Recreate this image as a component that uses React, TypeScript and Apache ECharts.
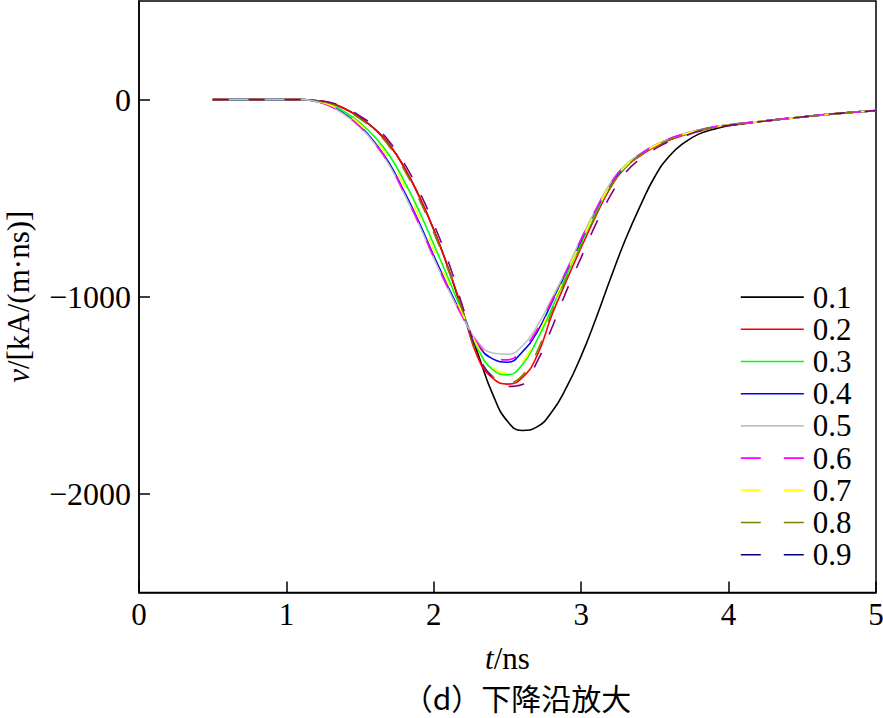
import React, { useEffect, useRef } from "react";
import * as echarts from "echarts";

const seriesNames = ["0.1", "0.2", "0.3", "0.4", "0.5", "0.6", "0.7", "0.8", "0.9"];
const lineColors = ["#000000", "#ff0000", "#00ff00", "#0000ff", "#c0c0c0", "#ff00ff", "#ffff00", "#808000", "#800080"];
const legendColors = ["#000000", "#ff0000", "#00ff00", "#0000ff", "#c0c0c0", "#ff00ff", "#ffff00", "#808000", "#000080"];
const dashed = [false, false, false, false, false, true, true, true, true];

const tValues = [0.5, 1.0, 1.1, 1.2, 1.3, 1.4, 1.5, 1.6, 1.7, 1.8, 1.9, 2.0, 2.1, 2.2, 2.3, 2.4, 2.5, 2.6, 2.7, 2.8, 2.9, 3.0, 3.1, 3.2, 3.3, 3.4, 3.5, 3.6, 3.7, 3.8, 3.9, 4.0, 4.25, 4.5, 4.75, 5.0];

const v01 = [0, 0, 0, -5, -18, -48, -92, -150, -230, -345, -490, -660, -860, -1085, -1290, -1495, -1632, -1678, -1660, -1585, -1460, -1300, -1110, -905, -710, -540, -390, -285, -218, -174, -150, -133, -108, -88, -70, -56];
const v02 = [0, 0, 0, -5, -18, -48, -92, -150, -230, -345, -490, -660, -858, -1080, -1310, -1413, -1443, -1410, -1300, -1095, -918, -750, -590, -445, -345, -285, -240, -205, -180, -158, -142, -130, -108, -88, -70, -56];
const v03 = [0, 0, 0, -7, -26, -64, -118, -190, -285, -415, -565, -735, -910, -1090, -1265, -1370, -1395, -1345, -1220, -1060, -892, -728, -575, -435, -340, -280, -235, -200, -176, -155, -140, -128, -108, -88, -70, -56];
const v04 = [0, 0, 0, -9, -32, -76, -135, -218, -325, -468, -622, -792, -955, -1105, -1245, -1315, -1332, -1280, -1180, -1030, -872, -713, -560, -428, -335, -278, -233, -198, -174, -154, -139, -128, -108, -88, -70, -56];
const v05 = [0, 0, 0, -10, -35, -80, -140, -225, -335, -480, -635, -805, -965, -1110, -1230, -1285, -1292, -1250, -1150, -1010, -863, -703, -555, -422, -332, -276, -232, -198, -174, -154, -139, -128, -108, -88, -70, -56];
const v06 = [0, 0, 0, -10, -34, -78, -138, -222, -330, -475, -630, -800, -960, -1108, -1240, -1305, -1320, -1268, -1168, -1022, -868, -708, -557, -425, -333, -277, -232, -198, -174, -154, -139, -128, -108, -88, -70, -56];
const v07 = [0, 0, 0, -8, -29, -70, -127, -205, -305, -440, -595, -765, -935, -1095, -1255, -1360, -1385, -1330, -1200, -1045, -882, -720, -568, -432, -338, -279, -234, -199, -175, -155, -140, -128, -108, -88, -70, -56];
const v08 = [0, 0, 0, -6, -20, -52, -98, -158, -240, -358, -505, -675, -868, -1080, -1300, -1405, -1436, -1400, -1280, -1080, -908, -742, -585, -442, -344, -284, -239, -204, -179, -157, -141, -130, -108, -88, -70, -56];
const v09 = [0, 0, 0, -4, -15, -42, -84, -138, -215, -325, -465, -632, -825, -1060, -1290, -1410, -1455, -1445, -1330, -1160, -970, -800, -630, -485, -372, -300, -250, -212, -185, -161, -144, -131, -109, -88, -70, -56];

const allValues = [v01, v02, v03, v04, v05, v06, v07, v08, v09];

const xTicks = [0, 1, 2, 3, 4, 5];
const yTickLabels = [-2000, -1000, 0];

const SERIF = "'Liberation Serif', 'Times New Roman', serif";

export default function App() {
  const ref = useRef<HTMLDivElement>(null);
  useEffect(() => {
    if (!ref.current) return;
    const chart = echarts.init(ref.current, undefined, { renderer: "svg" });
    const series = seriesNames.map((name, i) => ({
      name,
      type: "line",
      data: tValues.map((t, k) => [t, allValues[i][k]]),
      smooth: 0.5,
      showSymbol: false,
      symbol: "none",
      lineStyle: {
        color: lineColors[i],
        width: 1.6,
        type: dashed[i] ? [16, 20] : "solid",
      },
      itemStyle: { color: lineColors[i] },
      z: 2 + i,
    }));
    chart.setOption({
      animation: false,
      backgroundColor: "#ffffff",
      grid: {
        left: 139,
        top: 1,
        right: 7,
        bottom: 125.5,
        show: true,
        borderColor: "#000",
        borderWidth: 1.5,
        containLabel: false,
        outerBoundsMode: "none",
      },
      xAxis: {
        type: "value",
        min: xTicks[0],
        max: xTicks[xTicks.length - 1],
        interval: 1,
        name: "{i|t}/ns",
        nameLocation: "middle",
        nameGap: 50,
        nameTextStyle: {
          fontFamily: SERIF,
          fontSize: 31,
          color: "#000",
          rich: { i: { fontFamily: SERIF, fontSize: 31, fontStyle: "italic", color: "#000" } },
        },
        axisLine: { show: true, onZero: false, lineStyle: { color: "#000", width: 1.5 } },
        axisTick: { show: true, inside: true, length: 11, lineStyle: { color: "#000", width: 1.5 } },
        axisLabel: { fontFamily: SERIF, fontSize: 31, color: "#000", margin: 6 },
        splitLine: { show: false },
      },
      yAxis: {
        type: "value",
        min: -2500,
        max: 500,
        interval: 500,
        name: "{i|v}/[kA/(m·ns)]",
        nameLocation: "middle",
        nameGap: 105,
        nameRotate: 90,
        nameTextStyle: {
          fontFamily: SERIF,
          fontSize: 31,
          color: "#000",
          rich: { i: { fontFamily: SERIF, fontSize: 31, fontStyle: "italic", color: "#000" } },
        },
        axisLine: { show: true, onZero: false, lineStyle: { color: "#000", width: 1.5 } },
        axisTick: {
          show: true,
          inside: true,
          length: 11,
          customValues: yTickLabels,
          lineStyle: { color: "#000", width: 1.5 },
        },
        axisLabel: {
          fontFamily: SERIF,
          fontSize: 32,
          color: "#000",
          margin: 8,
          customValues: yTickLabels,
          formatter: (v: number) => (v < 0 ? "\u2212" + Math.abs(v) : String(v)),
        },
        splitLine: { show: false },
      },
      legend: {
        orient: "vertical",
        left: 740,
        top: 281,
        padding: 0,
        itemGap: 0,
        itemWidth: 63,
        itemHeight: 14,
        textStyle: {
          fontFamily: SERIF,
          fontSize: 31,
          color: "#000",
          lineHeight: 32.2,
          padding: [0, 0, 0, 4],
        },
        data: seriesNames.map((name, i) => ({
          name,
          itemStyle: { color: legendColors[i], opacity: 0 },
          lineStyle: {
            color: legendColors[i],
            width: 1.6,
            type: dashed[i] ? [20, 23] : "solid",
          },
        })),
      },
      graphic: [
        {
          type: "text",
          x: 517,
          y: 697,
          style: {
            text: "（d）下降沿放大",
            fontFamily: "'Noto Sans CJK SC', 'Liberation Serif', serif",
            fontSize: 30,
            lineHeight: 32,
            fill: "#000",
            align: "center",
            verticalAlign: "middle",
          },
        },
      ],
      series,
    });
    return () => chart.dispose();
  }, []);
  return (
    <div
      ref={ref}
      style={{ position: "fixed", left: 0, top: 0, width: 883, height: 718, background: "#fff" }}
    />
  );
}
